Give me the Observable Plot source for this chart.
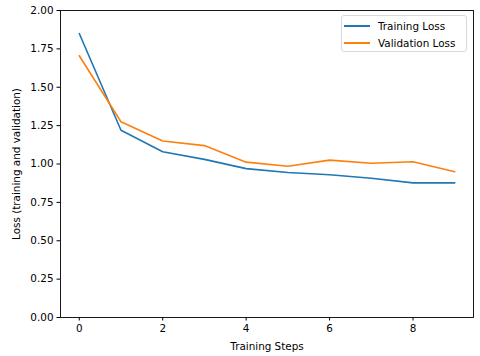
<!DOCTYPE html>
<html>
<head>
<meta charset="utf-8">
<script src="https://cdn.jsdelivr.net/npm/d3@7"></script>
<script src="https://cdn.jsdelivr.net/npm/@observablehq/plot@0.6"></script>
<style>
  body { margin: 0; background: white; }
  #wrap { position: relative; width: 480px; height: 356px; font-family: "DejaVu Sans", sans-serif; }
  #legend { position: absolute; left: 341px; top: 15px; width: 126px; height: 37px; box-sizing: border-box;
            border: 1px solid #d9d9d9; border-radius: 3px; background: rgba(255,255,255,0.8); font-size: 10.4px; color: #000; }
  .row { position: absolute; left: 0; height: 14px; display: flex; align-items: center; }
  .sw { width: 26px; height: 2px; margin-left: 2px; margin-right: 8px; }
</style>
</head>
<body>
<div id="wrap"></div>
<script>
const steps = [0, 1, 2, 3, 4, 5, 6, 7, 8, 9];
const trainingLoss = [1.85, 1.22, 1.08, 1.03, 0.97, 0.945, 0.93, 0.907, 0.877, 0.877];
const validationLoss = [1.705, 1.275, 1.15, 1.12, 1.012, 0.985, 1.025, 1.005, 1.015, 0.95];
const seriesNames = ["Training Loss", "Validation Loss"];
const seriesColors = ["#1f77b4", "#ff7f0e"];
const xTicks = [0, 2, 4, 6, 8];
const yTicks = [0, 0.25, 0.5, 0.75, 1.0, 1.25, 1.5, 1.75, 2.0];

const data = [];
steps.forEach((s, i) => {
  data.push({step: s, loss: trainingLoss[i], series: seriesNames[0]});
  data.push({step: s, loss: validationLoss[i], series: seriesNames[1]});
});

const chart = Plot.plot({
  width: 480, height: 356,
  marginLeft: 60, marginRight: 7, marginTop: 10, marginBottom: 39,
  style: {fontFamily: "DejaVu Sans, sans-serif", fontSize: "10.4px", background: "white", color: "#000"},
  x: {domain: [-0.45, 9.45]},
  y: {domain: [0, 2]},
  color: {domain: seriesNames, range: seriesColors},
  marks: [
    Plot.axisX({ticks: xTicks, tickFormat: d => String(d), tickSize: 3.5, tickPadding: 3.5,
      label: "Training Steps", labelAnchor: "center", labelOffset: 32, labelArrow: "none"}),
    Plot.axisY({ticks: yTicks, tickFormat: d3.format(".2f"), tickSize: 3.5, tickPadding: 3.5,
      label: "Loss (training and validation)", labelAnchor: "center", labelOffset: 48, labelArrow: "none"}),
    Plot.line(data, {x: "step", y: "loss", stroke: "series", z: "series", strokeWidth: 1.6}),
    Plot.frame({stroke: "#000", strokeWidth: 0.9})
  ]
});
const wrap = document.getElementById("wrap");
wrap.appendChild(chart);

const legend = document.createElement("div");
legend.id = "legend";
seriesNames.forEach((name, i) => {
  const row = document.createElement("div");
  row.className = "row";
  row.style.top = (3 + i * 17) + "px";
  const sw = document.createElement("span");
  sw.className = "sw";
  sw.style.background = seriesColors[i];
  const t = document.createElement("span");
  t.textContent = name;
  row.appendChild(sw); row.appendChild(t);
  legend.appendChild(row);
});
wrap.appendChild(legend);
</script>
</body>
</html>
